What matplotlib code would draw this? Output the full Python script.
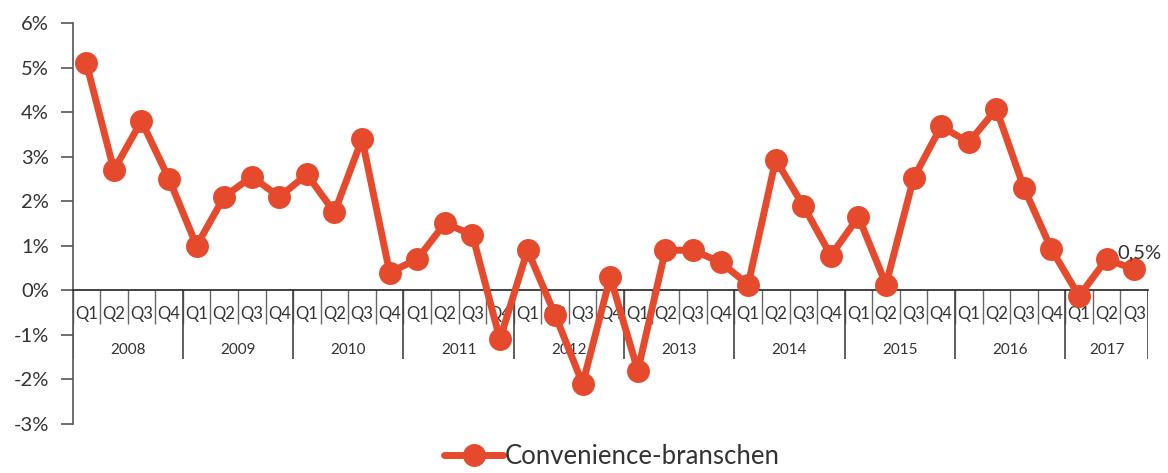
import matplotlib
matplotlib.use('Agg')
import matplotlib.pyplot as plt
import numpy as np

plt.rcParams['font.family'] = ['Lato', 'DejaVu Sans']

# data
years = ['2008', '2009', '2010', '2011', '2012', '2013', '2014', '2015', '2016', '2017']
quarters = ['Q1', 'Q2', 'Q3', 'Q4'] * 9 + ['Q1', 'Q2', 'Q3']
values = [5.1, 2.7, 3.8, 2.5,
          1.0, 2.1, 2.55, 2.1,
          2.6, 1.75, 3.4, 0.4,
          0.7, 1.5, 1.25, -1.1,
          0.9, -0.55, -2.1, 0.3,
          -1.8, 0.9, 0.9, 0.63,
          0.13, 2.93, 1.9, 0.78,
          1.65, 0.13, 2.52, 3.68,
          3.32, 4.07, 2.3, 0.92,
          -0.13, 0.7, 0.47]
series_name = 'Convenience-branschen'
last_label = '0,5%'
yticks = [-3, -2, -1, 0, 1, 2, 3, 4, 5, 6]

red = '#e64a2d'
txt = '#333333'
axc = '#555555'

fig = plt.figure(figsize=(11.68, 4.73), dpi=100)
ax = fig.add_axes([72.5 / 1168, 49 / 473, (1148 - 72.5) / 1168, (424 - 23) / 473])

x = np.arange(len(values))
ax.plot(x, values, color=red, lw=5, marker='o', ms=15.5, mec=red, mfc=red,
        label=series_name, clip_on=False, zorder=5, solid_capstyle='round')

ax.set_xlim(-0.5, len(values) - 0.5)
ax.set_ylim(-3, 6)
ax.set_yticks(yticks)
ax.set_yticklabels([f'{t}%' for t in yticks], fontsize=14.5, color=txt)
ax.tick_params(axis='y', length=9, width=1.2, color=axc, pad=8)
ax.set_xticks([])

for s in ['top', 'right']:
    ax.spines[s].set_visible(False)
ax.spines['left'].set_color(axc)
ax.spines['left'].set_linewidth(1.2)
ax.spines['bottom'].set_position(('data', 0))
ax.spines['bottom'].set_color('#222222')
ax.spines['bottom'].set_linewidth(1.2)

# category separators
q_sep = np.arange(len(values) + 1) - 0.5
ax.vlines(q_sep, -0.76, 0, color='#666666', lw=1, zorder=1)
year_starts = [0, 4, 8, 12, 16, 20, 24, 28, 32, 36]
year_ends = year_starts[1:] + [len(values)]
ax.vlines(np.array(year_starts + [len(values)]) - 0.5, -1.53, 0, color='#444444', lw=1.2, zorder=1)

for i, q in enumerate(quarters):
    ax.text(i, -0.52, q, ha='center', va='center', fontsize=12, color=txt)
for yr, a, b in zip(years, year_starts, year_ends):
    ax.text((a + b - 1) / 2, -1.33, yr, ha='center', va='center', fontsize=11, color=txt)

ax.annotate(last_label, (x[-1], values[-1]), xytext=(-12, 12), textcoords='offset points',
            ha='left', va='center', fontsize=14.5, color=txt, zorder=6)

fig.legend(loc='lower center', bbox_to_anchor=(0.524, -0.04), frameon=False,
           fontsize=18.5, handlelength=2.3, handletextpad=0.08, labelcolor=txt)

fig.savefig('out.png', dpi=100)
